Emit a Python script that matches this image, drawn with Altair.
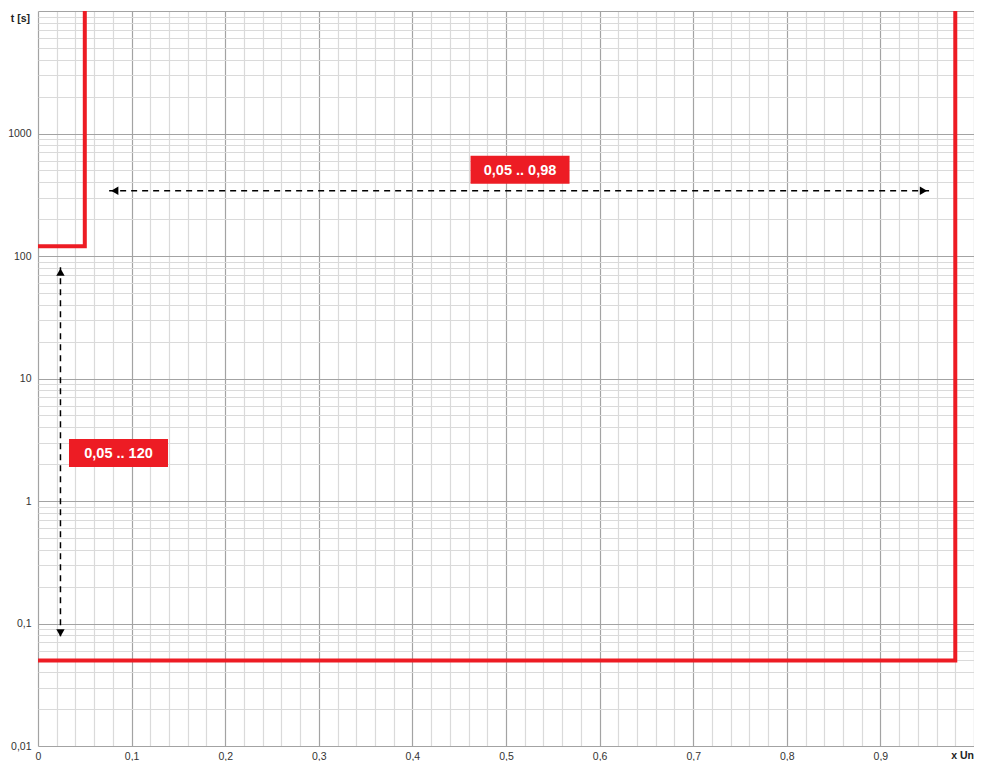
import altair as alt
import pandas as pd

# --- data -------------------------------------------------------------
# red characteristic curves (x in Un, t in s)
curve1_x = [0.0, 0.05, 0.05]
curve1_t = [120, 120, 10000]
curve2_x = [0.0, 0.98, 0.98]
curve2_t = [0.05, 0.05, 10000]

# dashed range arrows
harrow_x = [0.076, 0.952]
harrow_t = [341, 341]
varrow_x = [0.024, 0.024]
varrow_t = [81, 0.077]

# arrow heads
head_x = [0.082, 0.946, 0.024, 0.024]
head_t = [341, 341, 74, 0.084]
head_shape = ["triangle-left", "triangle-right", "triangle-up", "triangle-down"]

# range labels
label_x = [0.515, 0.086]
label_t = [507, 2.47]
label_text = ["0,05 .. 0,98", "0,05 .. 120"]

# axis ticks
x_ticks = [round(i * 0.02, 2) for i in range(0, 51)]
y_ticks = [round(k * 10 ** e, 6) for e in range(-2, 4) for k in range(1, 10)] + [10000]

RED = "#ED1C24"
FONT = "Liberation Sans"

curves = pd.DataFrame({
    "x": curve1_x + curve2_x,
    "t": curve1_t + curve2_t,
    "s": ["a"] * 3 + ["b"] * 3,
    "o": list(range(3)) + list(range(3)),
})
arrows = pd.DataFrame({
    "x": harrow_x + varrow_x,
    "t": harrow_t + varrow_t,
    "s": ["h", "h", "v", "v"],
})
heads = pd.DataFrame({"x": head_x, "t": head_t, "shape": head_shape})
labels = pd.DataFrame({"x": label_x, "t": label_t, "text": label_text})

W, H = 936, 735

xscale = alt.Scale(domain=[0, 1], nice=False, zero=False)
yscale = alt.Scale(type="log", domain=[0.01, 10000], nice=False)

x_major = "abs(datum.value*10 - round(datum.value*10)) < 1e-6"
y_major = "abs(log(datum.value)/LN10 - round(log(datum.value)/LN10)) < 1e-6"

xaxis = alt.Axis(
    values=x_ticks, tickCount=500, title=None, tickSize=0, domain=False,
    labelExpr=f"({x_major}) && datum.value < 0.99 ? replace(toString(round(datum.value*10)/10), '.', ',') : ''",
    labelOverlap=False, labelFlush=False, labelPadding=5,
    labelFont=FONT, labelFontSize=10.5, labelColor="#333",
    gridColor={"condition": {"test": x_major, "value": "#a3a3a3"}, "value": "#dadada"},
    gridWidth=1.2,
)
yaxis = alt.Axis(
    values=y_ticks, tickCount=500, title=None, tickSize=0, domain=False,
    labelExpr=f"({y_major}) && datum.value < 5000 ? replace(toString(datum.value), '.', ',') : ''",
    labelOverlap=False, labelFlush=False, labelPadding=7,
    labelFont=FONT, labelFontSize=10.5, labelColor="#333",
    gridColor={"condition": {"test": y_major, "value": "#a3a3a3"}, "value": "#dadada"},
    gridWidth=1.2,
)

base_curves = alt.Chart(curves).mark_line(color=RED, strokeWidth=4, clip=True, strokeCap="square", strokeJoin="miter").encode(
    x=alt.X("x:Q", scale=xscale, axis=xaxis),
    y=alt.Y("t:Q", scale=yscale, axis=yaxis),
    detail="s:N",
    order="o:Q",
)

arrow_lines = alt.Chart(arrows).mark_line(color="black", strokeWidth=1.5, strokeDash=[6, 5]).encode(
    x=alt.X("x:Q", scale=xscale),
    y=alt.Y("t:Q", scale=yscale),
    detail="s:N",
)

arrow_heads = alt.Chart(heads).mark_point(filled=True, color="black", size=70, opacity=1).encode(
    x=alt.X("x:Q", scale=xscale),
    y=alt.Y("t:Q", scale=yscale),
    shape=alt.Shape("shape:N", scale=None, legend=None),
)

boxes = alt.Chart(labels).mark_rect(color=RED, width=99, height=28).encode(
    x=alt.X("x:Q", scale=xscale),
    y=alt.Y("t:Q", scale=yscale),
)
texts = alt.Chart(labels).mark_text(color="white", font=FONT, fontWeight="bold", fontSize=14.5, baseline="middle", dy=1).encode(
    x=alt.X("x:Q", scale=xscale),
    y=alt.Y("t:Q", scale=yscale),
    text="text:N",
)

t_title = alt.Chart(pd.DataFrame({"text": ["t [s]"]})).mark_text(
    font=FONT, fontWeight="bold", fontSize=10.5, align="right", baseline="middle", color="#222"
).encode(x=alt.value(-8), y=alt.value(8), text="text:N")

x_title = alt.Chart(pd.DataFrame({"text": ["x Un"]})).mark_text(
    font=FONT, fontWeight="bold", fontSize=10.5, align="right", baseline="top", color="#222"
).encode(x=alt.value(W), y=alt.value(H + 5), text="text:N")

chart = alt.layer(base_curves, arrow_lines, arrow_heads, boxes, texts, t_title, x_title).properties(
    width=W, height=H,
    autosize=alt.AutoSizeParams(type="none"),
    padding={"left": 30, "top": 3, "right": 0, "bottom": 15},
).configure_view(stroke=None)

chart.save("out.html", embed_options={"renderer": "svg", "actions": False})
